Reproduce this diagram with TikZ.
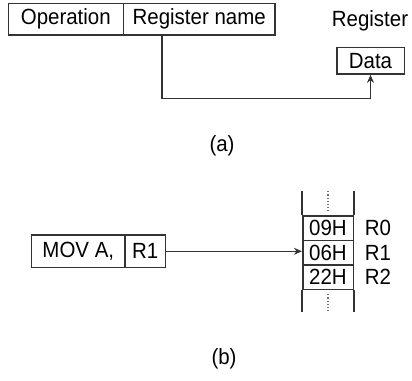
\documentclass[tikz,border=0pt]{standalone}
\usepackage{fontspec}
\setmainfont{Liberation Sans}[FakeStretch=0.93]
\usetikzlibrary{arrows.meta}
\definecolor{ln}{HTML}{333333}
\begin{document}
\begin{tikzpicture}[x=1pt,y=-1pt,
  every node/.style={font=\fontsize{22}{26}\selectfont, inner sep=0pt, text=black},
  cell/.style={draw=ln, line width=1.6pt},
  conn/.style={draw=ln, line width=1.6pt},
  tip/.style={-{Stealth[length=8pt,width=7pt]}},
  dots/.style={draw=ln!70, line width=1.2pt, dotted}]
\useasboundingbox (0,0) rectangle (412,380);
% (a)
\node[cell, minimum width=115, minimum height=31.7] (op) at (65.8,19.2) {Operation};
\node[cell, minimum width=151.7, minimum height=31.7] (rn) at (199.2,19.2) {Register name};
\node (reglbl) at (370,20.7) {Register};
\node[cell, minimum width=67.6, minimum height=26.7] (data) at (370.5,60.7) {Data};
\coordinate (c1) at (161.7,35.05);
\draw[conn, tip] (c1) -- ++(0,63.3) -| (data.south);
\node (la) at (222,146) {(a)};
% (b)
\node[cell, minimum width=93.3, minimum height=32.7] (mov) at (78.3,251.3) {MOV A,};
\node[cell, minimum width=40.7, minimum height=32.7] (r1) at (145.3,251.3) {R1};
\node[cell, minimum width=50.6, minimum height=24.5] (m0) at (328,228.2) {09H};
\node[cell, minimum width=50.6, minimum height=24.5] (m1) at (328,252.7) {06H};
\node[cell, minimum width=50.6, minimum height=24.5] (m2) at (328,277.2) {22H};
\node (n0) at (378,228.2) {R0};
\node (n1) at (378,252.7) {R1};
\node (n2) at (378,277.2) {R2};
\draw[conn] (m0.north west) -- ++(0,-24);
\draw[conn] (m0.north east) -- ++(0,-24);
\draw[conn] (m2.south west) -- ++(0,22);
\draw[conn] (m2.south east) -- ++(0,22);
\draw[dots] (m0.north) ++(0,-24) -- ++(0,20);
\draw[dots] (m2.south) ++(0,4) -- ++(0,18);
\draw[conn, tip] (r1.east) -- (r1.east -| m1.west);
\node (lb) at (224,359) {(b)};
\end{tikzpicture}
\end{document}
